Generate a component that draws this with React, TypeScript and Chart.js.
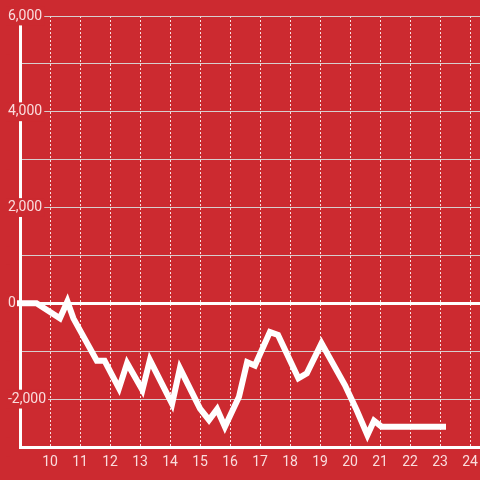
import React, { useEffect, useRef } from "react";
import { Chart, registerables } from "chart.js";

Chart.register(...registerables);

const times = [9, 9.55, 10.33, 10.58, 10.78, 11.56, 11.82, 12.3, 12.57, 13.08, 13.33, 14.07, 14.33, 15.0, 15.3, 15.57, 15.83, 16.3, 16.57, 16.83, 17.33, 17.6, 18.28, 18.56, 19.05, 19.83, 20.22, 20.58, 20.8, 21.05, 23.1];
const values = [0, 0, -313, 40, -313, -1200, -1200, -1775, -1250, -1810, -1184, -2100, -1357, -2200, -2436, -2210, -2576, -1950, -1230, -1300, -600, -660, -1566, -1462, -835, -1706, -2228, -2750, -2450, -2576, -2576];

const xMin = 9;
const xMax = 24.333;
const yMin = -3000;
const yMax = 6000;
const yStep = 1000;
const yLabelStep = 2000;

const BG = "#cc2a30";
const TEXT = "rgba(255,240,240,0.9)";

export default function App() {
  const ref = useRef<HTMLCanvasElement | null>(null);
  useEffect(() => {
    if (!ref.current) return;
    const points = times.map((t, i) => ({ x: t, y: values[i] }));
    const chart = new Chart(ref.current, {
      type: "line",
      data: {
        datasets: [
          {
            data: points,
            borderColor: "#ffffff",
            borderWidth: 6,
            borderCapStyle: "square",
            borderJoinStyle: "miter",
            pointRadius: 0,
            tension: 0,
            fill: false,
            clip: false as any,
          },
        ],
      },
      options: {
        animation: false,
        responsive: false,
        maintainAspectRatio: false,
        layout: { padding: { top: 16, right: 0, left: 0, bottom: 0 } },
        plugins: { legend: { display: false }, tooltip: { enabled: false } },
        scales: {
          x: {
            type: "linear",
            min: xMin,
            max: xMax,
            afterFit: (s: any) => {
              s.height = 33;
              s.paddingLeft = 0;
              s.paddingRight = 0;
            },
            ticks: {
              stepSize: 1,
              includeBounds: false,
              color: TEXT,
              padding: 7,
              font: { family: "Roboto", size: 14 },
              maxRotation: 0,
              autoSkip: false,
              callback: (v: any) => (Number.isInteger(v) && v !== xMin ? String(v) : ""),
            },
            grid: {
              drawTicks: false,
              color: (ctx: any) => {
                const v = ctx.tick ? ctx.tick.value : 0;
                return Number.isInteger(v) && v !== xMin ? "rgba(255,255,255,0.85)" : "rgba(0,0,0,0)";
              },
              lineWidth: 1,
            },
            border: { display: true, color: "#ffffff", width: 3, dash: [2, 2] },
          },
          y: {
            type: "linear",
            min: yMin,
            max: yMax,
            afterFit: (s: any) => {
              s.width = 20;
            },
            ticks: {
              stepSize: yStep,
              mirror: true,
              crossAlign: "near",
              padding: -12,
              color: TEXT,
              font: { family: "Roboto", size: 14 },
              showLabelBackdrop: true,
              backdropColor: BG,
              backdropPadding: { top: 1, bottom: 1, left: 2, right: 2 },
              callback: (v: any) => (v % yLabelStep === 0 ? Number(v).toLocaleString("en-US") : ""),
            },
            grid: {
              drawTicks: false,
              color: (ctx: any) => (ctx.tick && ctx.tick.value === 0 ? "#ffffff" : "rgba(215,215,215,0.95)"),
              lineWidth: (ctx: any) => (ctx.tick && ctx.tick.value === 0 ? 3 : 1),
            },
            border: { display: true, color: "#ffffff", width: 3 },
          },
        },
      },
    });
    return () => chart.destroy();
  }, []);
  return (
    <div style={{ position: "fixed", left: 0, top: 0, width: 480, height: 480, background: BG }}>
      <canvas ref={ref} width={480} height={480} style={{ width: 480, height: 480, display: "block" }} />
    </div>
  );
}
